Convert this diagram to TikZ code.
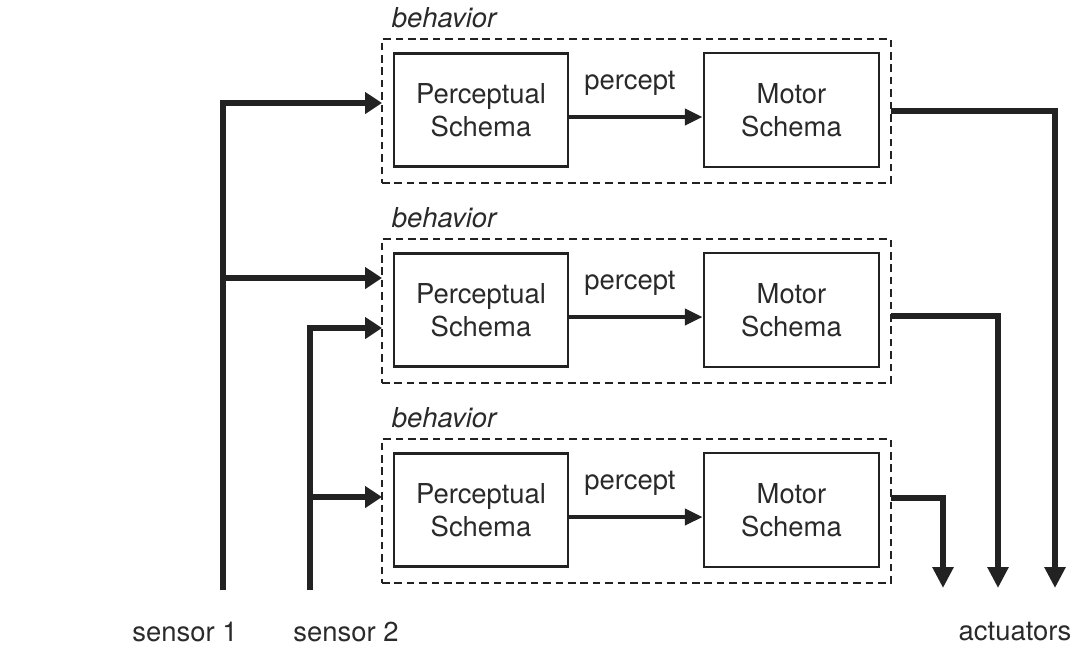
\documentclass[tikz,border=0pt]{standalone}
\usepackage{fontspec}
\setmainfont{TeX Gyre Heros}
\usepackage{tikz}
\usetikzlibrary{arrows.meta}
\usetikzlibrary{positioning}
\definecolor{ink}{HTML}{222222}
\definecolor{txt}{HTML}{2a2a2a}

\begin{document}
\begin{tikzpicture}
    [
    x=0.025cm, y=-0.025cm,
    every node/.style={text=txt,font=\fontsize{19.5}{23.5}\selectfont},
    behbox/.style={draw=ink,line width=1.9pt,dash pattern=on 0.19cm off 0.12cm,minimum width=12.725cm,minimum height=3.6cm,inner sep=0pt},
    schema/.style={draw=ink,line width=2pt,align=center,inner sep=0pt},
    perc/.style={schema,minimum width=4.35cm,minimum height=2.83cm},
    motor/.style={schema,minimum width=4.375cm,minimum height=2.85cm},
    sig/.style={draw=ink,line width=4pt,-{Triangle[width=0.52cm,length=0.42cm]}},
    act/.style={draw=ink,line width=4pt,-{Triangle[width=0.5cm,length=0.52cm]}},
    pa/.style={draw=ink,line width=2.8pt,-{Triangle[width=0.4cm,length=0.44cm]}},
    ]
    \useasboundingbox [fill=white] (0,0) rectangle (1089,659);

    % behaviors
    \node (b1) at (636.5,111) [behbox] {};
    \node (b2) at (636.5,311) [behbox] {};
    \node (b3) at (636.5,511) [behbox] {};
    \node (l1) at (444,18) {\itshape behavior};
    \node (l2) at (444,218) {\itshape behavior};
    \node (l3) at (444,418) {\itshape behavior};

    \node (p1) at (481,110) [perc] {Perceptual\\Schema};
    \node (p2) at (481,310) [perc] {Perceptual\\Schema};
    \node (p3) at (481,510) [perc] {Perceptual\\Schema};
    \node (m1) at (791.5,110) [motor] {Motor\\Schema};
    \node (m2) at (791.5,310) [motor] {Motor\\Schema};
    \node (m3) at (791.5,510) [motor] {Motor\\Schema};

    \draw [pa] ([yshift=-0.175cm]p1.east) to ([yshift=-0.175cm]m1.west);
    \draw [pa] ([yshift=-0.175cm]p2.east) to ([yshift=-0.175cm]m2.west);
    \draw [pa] ([yshift=-0.175cm]p3.east) to ([yshift=-0.175cm]m3.west);
    \node (t1) at (630,83) {percept};
    \node (t2) at (630,283) {percept};
    \node (t3) at (630,483) {percept};

    % sensors
    \node (s1lab) at (185,632) {sensor 1};
    \node (s2lab) at (346,632) {sensor 2};
    \node (alab) at (1015,632) {actuators};
    \coordinate (s1) at (223,590);
    \coordinate (s2) at (310,590);
    \coordinate (in1) at (382,103);
    \coordinate (in2) at (382,278);
    \coordinate (in2b) at (382,328);
    \coordinate (in3) at (382,497);
    \draw [sig] (s1) |- (in1);
    \draw [sig] (s1 |- in2) -- (in2);
    \draw [sig] (s2) |- (in2b);
    \draw [sig] (s2 |- in3) -- (in3);

    % actuators
    \coordinate (o1) at (891,111);
    \coordinate (o2) at (891,316);
    \coordinate (o3) at (891,498);
    \coordinate (a1) at (1055,588);
    \coordinate (a2) at (998,588);
    \coordinate (a3) at (943,588);
    \draw [act] (o1) -| (a1);
    \draw [act] (o2) -| (a2);
    \draw [act] (o3) -| (a3);
  \end{tikzpicture}
\end{document}
